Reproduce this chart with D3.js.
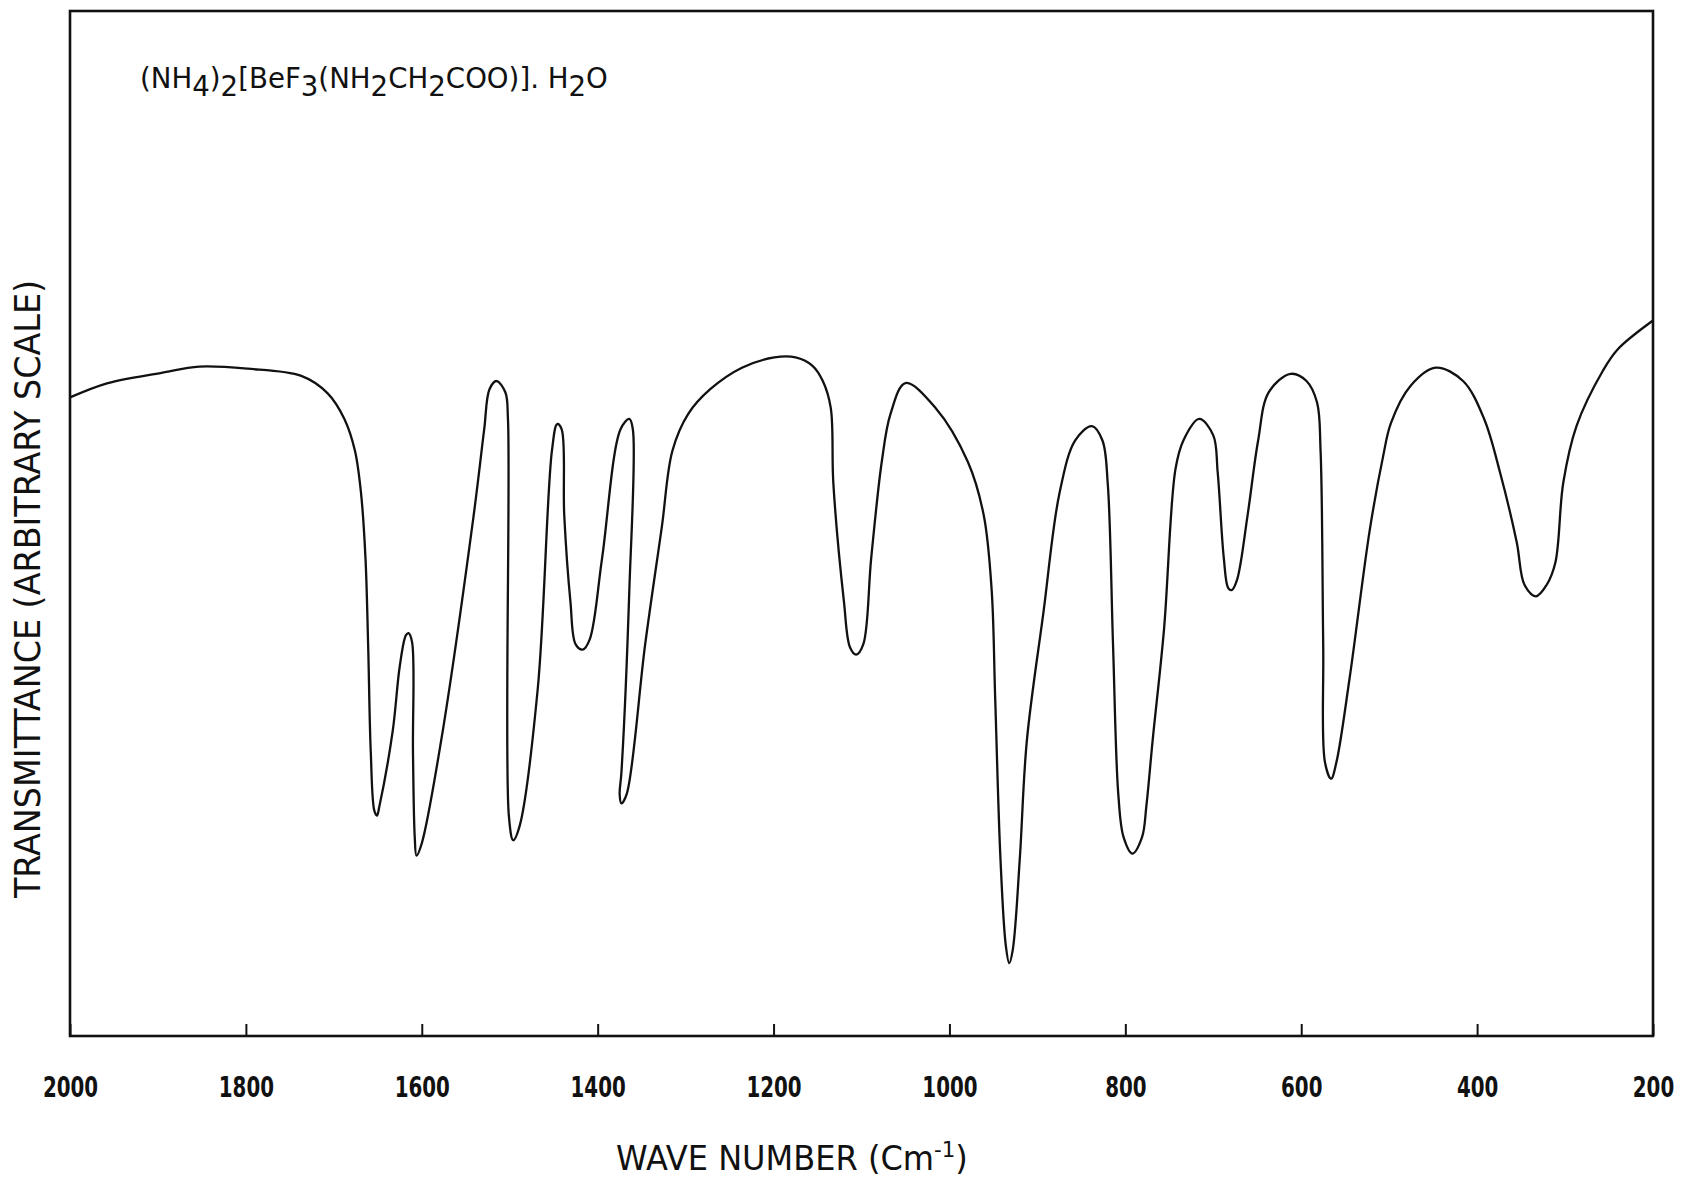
<!DOCTYPE html>
<html>
<head>
<meta charset="utf-8">
<script src="https://cdn.jsdelivr.net/npm/d3@7"></script>
<style>
  body { margin: 0; background: #fff; }
  text { fill: #111; }
</style>
</head>
<body>
<svg id="chart" width="1686" height="1184"></svg>
<script>
// spectrum (wave number in cm-1, transmittance on an arbitrary 0-100 scale)
var waveNumbers = [2000, 1957, 1896, 1853, 1798, 1737, 1707, 1688, 1676, 1669, 1664, 1661, 1658, 1654, 1651, 1648,
  1633, 1625, 1618, 1615, 1611, 1610, 1608, 1606, 1600, 1578, 1541, 1529, 1523, 1515, 1505, 1502, 1501, 1496, 1489,
  1468, 1452, 1446, 1441, 1438, 1431, 1425, 1417, 1409, 1395, 1374, 1364, 1360, 1364, 1373, 1375, 1373, 1367, 1346,
  1327, 1315, 1297, 1272, 1236, 1199, 1175, 1156, 1144, 1135, 1132, 1120, 1113, 1106, 1098, 1089, 1077, 1067, 1050,
  1016, 979, 961, 952, 948, 942, 936, 932, 928, 920, 912, 893, 875, 857, 838, 826, 820, 814, 808, 802, 792, 781, 776,
  769, 756, 743, 734, 716, 700, 695, 688, 683, 679, 673, 661, 649, 637, 612, 594, 582, 578, 575, 573, 566, 560, 545,
  522, 507, 498, 476, 447, 416, 392, 374, 355, 346, 333, 321, 311, 302, 287, 257, 240, 200];

var transmittance = [62.3, 63.7, 64.7, 65.3, 65.1, 64.4, 62.7, 60.2, 57.1, 52.9, 46.6, 38.2, 27.7, 22.0, 21.5, 22.5,
  29.8, 36.1, 39.1, 39.3, 38.4, 27.7, 19.4, 17.6, 18.8, 28.8, 50.8, 59.2, 63.1, 63.9, 62.8, 60.2, 21.5, 19.1, 20.4,
  34.0, 57.1, 59.7, 59.2, 50.8, 42.4, 38.2, 37.7, 38.7, 46.6, 59.2, 60.2, 59.2, 43.5, 25.7, 23.6, 22.7, 23.6, 38.2,
  49.7, 57.1, 60.7, 63.1, 65.2, 66.2, 66.2, 65.4, 63.9, 61.3, 53.9, 42.4, 37.9, 37.2, 38.2, 46.6, 56.0, 60.7, 63.7,
  61.3, 56.0, 50.8, 43.5, 33.0, 17.3, 8.9, 7.1, 8.4, 17.3, 28.8, 41.4, 52.9, 58.1, 59.5, 58.1, 53.9, 38.2, 23.6, 19.4,
  17.8, 19.4, 22.5, 28.8, 39.7, 55.3, 58.1, 60.2, 58.6, 55.0, 46.6, 43.7, 43.5, 44.5, 50.8, 58.1, 62.8, 64.6, 63.9,
  61.8, 57.1, 38.2, 26.7, 25.1, 26.7, 34.9, 49.4, 56.5, 59.8, 63.4, 65.2, 63.9, 60.2, 55.0, 48.2, 44.0, 42.9, 44.0,
  46.2, 54.0, 59.5, 64.9, 67.0, 69.8];

var tickValues = [2000, 1800, 1600, 1400, 1200, 1000, 800, 600, 400, 200];

// compound name, second value marks a subscript
var titleParts = [["(NH", 0], ["4", 1], [")", 0], ["2", 1], ["[BeF", 0], ["3", 1], ["(NH", 0], ["2", 1],
  ["CH", 0], ["2", 1], ["COO)]. H", 0], ["2", 1], ["O", 0]];

var xTitle = "WAVE NUMBER (Cm";
var yTitle = "TRANSMITTANCE (ARBITRARY SCALE)";

var svg, plotLeft, plotRight, plotTop, plotBottom, x, y, points, line, xAxis, fitWidth, title, shift, xt;

plotLeft = 70;
plotRight = 1653;
plotTop = 11;
plotBottom = 1036;

svg = d3.select("#chart");

x = d3.scaleLinear().domain([2000, 200]).range([plotLeft, plotRight]);
y = d3.scaleLinear().domain([0, 100]).range([plotBottom, plotTop]);

// squeeze or stretch a text horizontally around its start so it covers the wanted width
fitWidth = function(sel, target, x0) {
  var w = sel.node().getBBox().width;
  return sel.attr("transform", "translate(" + x0 + ",0) scale(" + (target / w) + ",1) translate(" + (-x0) + ",0)");
};

// frame
svg.append("rect").attr("x", plotLeft).attr("y", plotTop).attr("width", plotRight - plotLeft)
  .attr("height", plotBottom - plotTop).attr("fill", "none").attr("stroke", "#111").attr("stroke-width", 2.6);

xAxis = d3.axisBottom(x).tickValues(tickValues).tickFormat(d3.format("d")).tickSize(-12).tickSizeOuter(0).tickPadding(40);

svg.append("g").attr("class", "x-axis").attr("transform", "translate(0," + plotBottom + ")").call(xAxis)
  .call(function(g) { g.select(".domain").remove(); })
  .call(function(g) {
    g.selectAll(".tick line").attr("stroke", "#111").attr("stroke-width", 2);
    g.selectAll(".tick text").attr("fill", "#111")
      .style("font-family", "'DejaVu Sans Condensed', sans-serif")
      .style("font-weight", "bold").style("font-size", "29px")
      .attr("textLength", function(d) { return String(d).length * 13.8; })
      .attr("lengthAdjust", "spacingAndGlyphs");
  });

// spectrum
points = waveNumbers.map(function(d, i) {
  return [d, transmittance[i]];
});

line = d3.line().x(function(d) {
  return x(d[0]);
}).y(function(d) {
  return y(d[1]);
}).curve(d3.curveCatmullRom.alpha(0.5));

svg.append("path").datum(points).attr("d", line).attr("fill", "none").attr("stroke", "#111")
  .attr("stroke-width", 2.3).attr("stroke-linejoin", "round");

// compound label
title = svg.append("text").attr("x", 140).attr("y", 88)
  .style("font-family", "'DejaVu Sans Condensed', sans-serif").style("font-size", "29px");
shift = 0;
titleParts.forEach(function(p) {
  var dy = p[1] ? 8 - shift : -shift;
  shift = p[1] ? 8 : 0;
  title.append("tspan").attr("dy", dy).text(p[0]);
});
fitWidth(title, 468, 140);

// axis titles
xt = svg.append("text").attr("x", 616).attr("y", 1170)
  .style("font-family", "'DejaVu Sans', sans-serif").style("font-size", "33px");
xt.append("tspan").text(xTitle);
xt.append("tspan").attr("dy", -13).style("font-size", "22px").text("-1");
xt.append("tspan").attr("dy", 13).text(")");
fitWidth(xt, 352, 616);

svg.append("text").attr("transform", "translate(40,589) rotate(-90)").attr("text-anchor", "middle")
  .attr("textLength", 618).attr("lengthAdjust", "spacingAndGlyphs")
  .style("font-family", "'DejaVu Sans Condensed', sans-serif").style("font-size", "36px").text(yTitle);
</script>
</body>
</html>
